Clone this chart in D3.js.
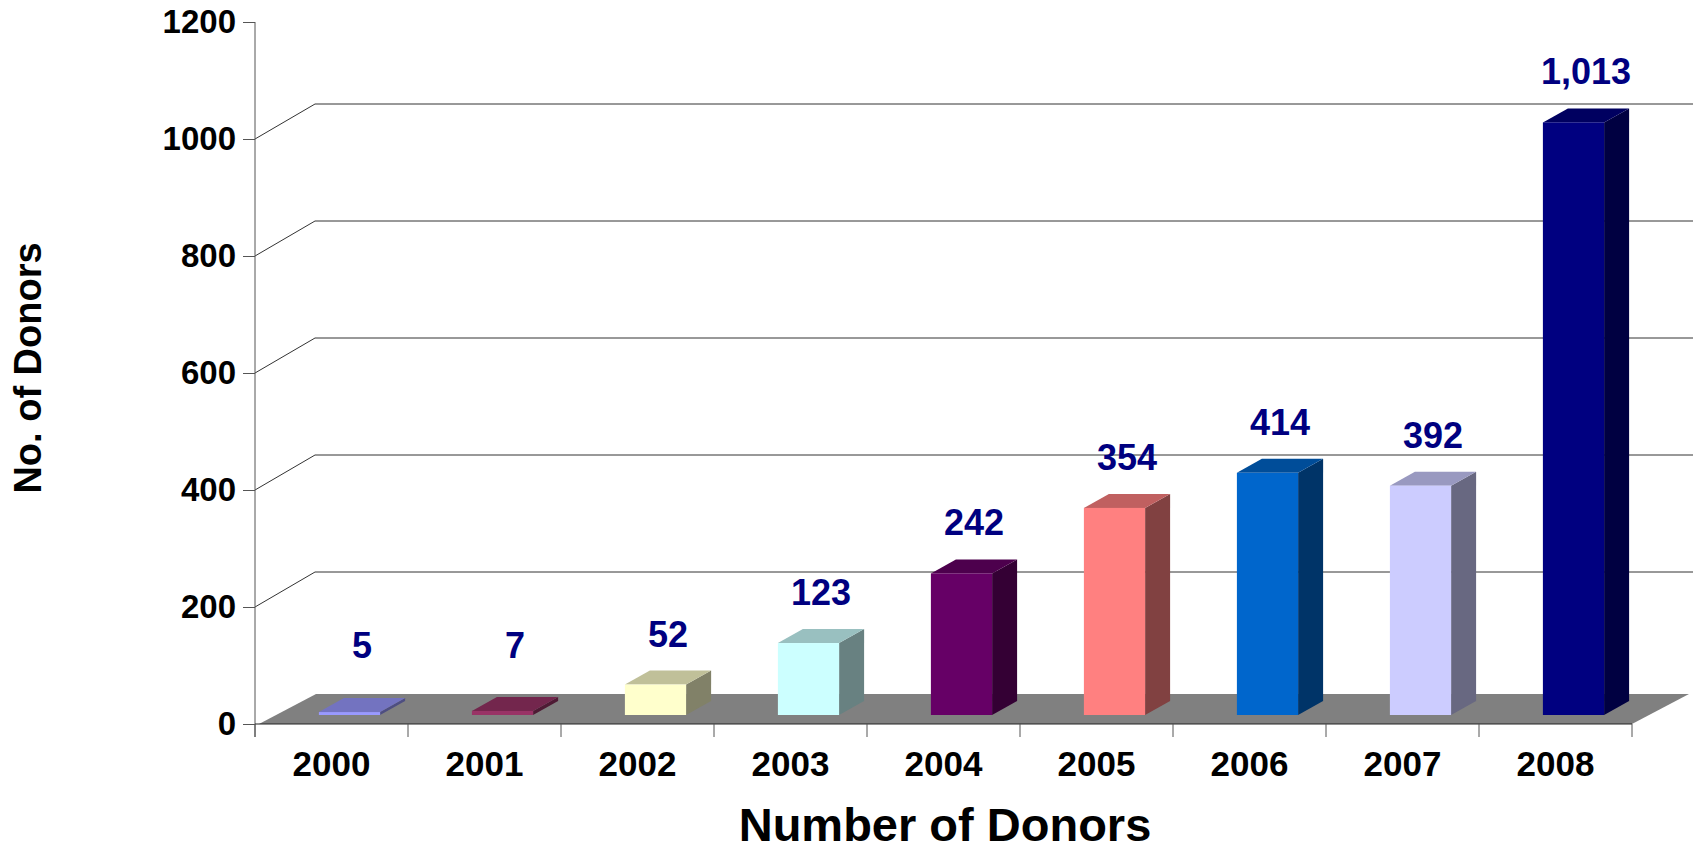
<!DOCTYPE html>
<html>
<head>
<meta charset="utf-8">
<script src="https://cdn.jsdelivr.net/npm/d3@7"></script>
<style>
  body { margin: 0; background: #fff; }
  text { font-family: "Liberation Sans", Arial, sans-serif; font-weight: bold; }
</style>
</head>
<body>
<svg id="chart"></svg>
<script>
'use strict'

// data
const years = ["2000", "2001", "2002", "2003", "2004", "2005", "2006", "2007", "2008"]
const donors = [5, 7, 52, 123, 242, 354, 414, 392, 1013]
const donorLabels = ["5", "7", "52", "123", "242", "354", "414", "392", "1,013"]
const barColors = ["#9999FF", "#993366", "#FFFFCC", "#CCFFFF", "#660066", "#FF8080", "#0066CC", "#CCCCFF", "#000080"]
const yTicks = [0, 200, 400, 600, 800, 1000, 1200]

const width = 1693,
      height = 848

const svg = d3.select("#chart")
svg.attr("width", width).attr("height", height)

const x = d3.scaleBand().domain(years).range([255, 1632])
const y = d3.scaleLinear().domain([0, 1200]).range([724, 22])

// fake 3D offsets
const wall = { dx: 60, dy: 35 },
      floor = { dx: 57, dy: 30 },
      front = { dx: 18, dy: 9 },   // bar front face offset from the axis plane
      depth = { dx: 25, dy: 14 }   // bar depth
const barW = x.bandwidth() * 0.4

// back wall gridlines (diagonal on the side wall, then across)
const grid = svg.append("g").attr("stroke", "#333").attr("stroke-width", 1).attr("fill", "none")
yTicks.filter(t => t > 0 && t < 1200).forEach(t => {
  const y0 = y(t)
  grid.append("path")
    .attr("d", `M${x.range()[0]},${y0} L${x.range()[0] + wall.dx},${y0 - wall.dy} L${width},${y0 - wall.dy}`)
})

// floor
const x0 = x.range()[0], x1 = x.range()[1], yz = y(0)
svg.append("path")
  .attr("d", `M${x0 + 4},${yz} L${x0 + 4 + floor.dx},${yz - floor.dy} L${x1 + floor.dx},${yz - floor.dy} L${x1},${yz} Z`)
  .attr("fill", "#808080")

// bars
const bars = svg.append("g").selectAll("g")
  .data(years.map((yr, i) => ({ yr, v: donors[i], c: barColors[i], label: donorLabels[i] })))
  .join("g")

const fx = d => x(d.yr) + (x.bandwidth() - barW) / 2 + front.dx
const fTop = d => y(d.v) - front.dy
const fBot = () => y(0) - front.dy

// side face
bars.append("path")
  .attr("d", d => {
    const r = fx(d) + barW
    return `M${r},${fTop(d)} L${r + depth.dx},${fTop(d) - depth.dy} L${r + depth.dx},${fBot() - depth.dy} L${r},${fBot()} Z`
  })
  .attr("fill", d => d3.rgb(d.c).darker(1.9))
// top face
bars.append("path")
  .attr("d", d => {
    const l = fx(d), r = l + barW, t = fTop(d)
    return `M${l},${t} L${l + depth.dx},${t - depth.dy} L${r + depth.dx},${t - depth.dy} L${r},${t} Z`
  })
  .attr("fill", d => d3.rgb(d.c).darker(0.8))
// front face
bars.append("rect")
  .attr("x", fx)
  .attr("y", fTop)
  .attr("width", barW)
  .attr("height", d => fBot() - fTop(d))
  .attr("fill", d => d.c)

// value labels
bars.append("text")
  .attr("x", d => fx(d) + barW / 2 + depth.dx / 2)
  .attr("y", d => Math.min(fTop(d) - 38, 658))
  .attr("text-anchor", "middle")
  .attr("font-size", 36)
  .attr("fill", "#000080")
  .text(d => d.label)

// y axis
const yAxis = svg.append("g")
  .attr("transform", `translate(${x0},0)`)
  .call(d3.axisLeft(y).tickValues(yTicks).tickSize(12).tickPadding(7).tickFormat(d3.format("d")))
yAxis.select(".domain").remove()
yAxis.selectAll("line").attr("stroke", "#555")
yAxis.selectAll("text").attr("font-size", 33).attr("fill", "#000")
  .attr("font-family", "Liberation Sans, Arial, sans-serif").attr("font-weight", "bold")
svg.append("line")
  .attr("x1", x0).attr("x2", x0).attr("y1", y(1200)).attr("y2", yz + 13)
  .attr("stroke", "#555")

// x axis
const xAxis = svg.append("g")
  .attr("transform", `translate(0,${yz})`)
  .call(d3.axisBottom(x).tickSize(0).tickPadding(27))
xAxis.select(".domain").remove()
xAxis.selectAll("text").attr("font-size", 35).attr("fill", "#000")
  .attr("font-family", "Liberation Sans, Arial, sans-serif").attr("font-weight", "bold")
svg.append("line")
  .attr("x1", x0).attr("x2", x1).attr("y1", yz).attr("y2", yz)
  .attr("stroke", "#222")
svg.append("g").selectAll("line")
  .data(years.map(yr => x(yr)).concat([x1]))
  .join("line")
  .attr("x1", d => d).attr("x2", d => d)
  .attr("y1", yz).attr("y2", yz + 13)
  .attr("stroke", "#555")

// axis titles
svg.append("text")
  .attr("x", 945).attr("y", 841)
  .attr("text-anchor", "middle")
  .attr("font-size", 47)
  .text("Number of Donors")

svg.append("text")
  .attr("transform", "translate(41,368) rotate(-90)")
  .attr("text-anchor", "middle")
  .attr("font-size", 38)
  .text("No. of Donors")
</script>
</body>
</html>
